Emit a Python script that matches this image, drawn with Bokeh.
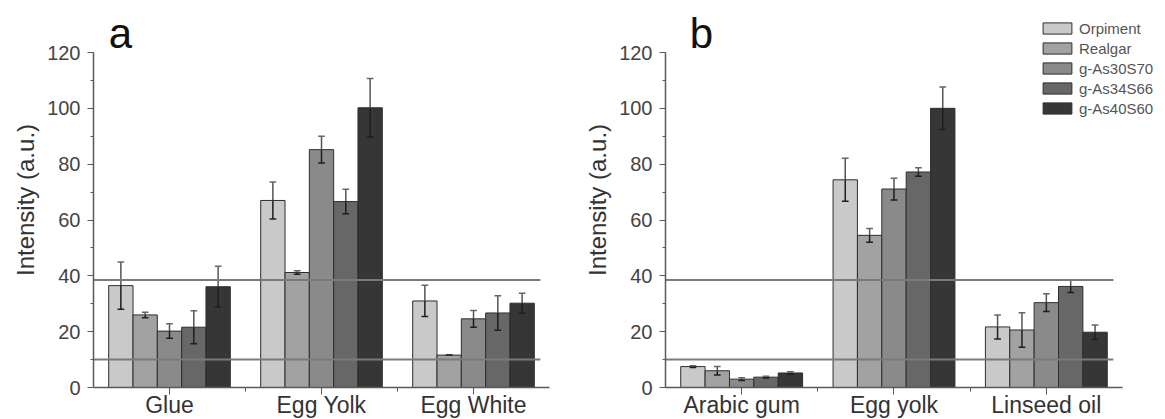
import numpy as np
from bokeh.plotting import figure
from bokeh.layouts import row
from bokeh.models import (ColumnDataSource, FixedTicker, SingleIntervalTicker,
                          Legend, LegendItem, Label, Range1d)
from bokeh.embed import file_html
from bokeh.resources import INLINE

series = ["Orpiment", "Realgar", "g-As30S70", "g-As34S66", "g-As40S60"]
colors = ["#c9c9c9", "#a2a2a2", "#8a8a8a", "#676767", "#363636"]

cats_a = ["Glue", "Egg Yolk", "Egg White"]
vals_a = {
    "Orpiment":  [36.5, 67.0, 31.0],
    "Realgar":   [26.0, 41.2, 11.6],
    "g-As30S70": [20.2, 85.2, 24.6],
    "g-As34S66": [21.6, 66.6, 26.7],
    "g-As40S60": [36.1, 100.2, 30.2],
}
errs_a = {
    "Orpiment":  [8.5, 6.6, 5.6],
    "Realgar":   [1.0, 0.6, 0.0],
    "g-As30S70": [2.6, 4.8, 3.0],
    "g-As34S66": [5.9, 4.4, 6.2],
    "g-As40S60": [7.3, 10.5, 3.6],
}

cats_b = ["Arabic gum", "Egg yolk", "Linseed oil"]
vals_b = {
    "Orpiment":  [7.5, 74.4, 21.7],
    "Realgar":   [6.0, 54.5, 20.6],
    "g-As30S70": [3.0, 71.1, 30.4],
    "g-As34S66": [3.7, 77.2, 36.2],
    "g-As40S60": [5.2, 100.0, 19.8],
}
errs_b = {
    "Orpiment":  [0.3, 7.7, 4.3],
    "Realgar":   [1.5, 2.5, 6.2],
    "g-As30S70": [0.5, 3.9, 3.2],
    "g-As34S66": [0.3, 1.5, 2.2],
    "g-As40S60": [0.4, 7.6, 2.6],
}

ref_levels = [10, 38.5]
ref_x_extent = [0.5, 3.44]
panel_letters = ["a", "b"]

FONT = "Liberation Sans"
BAR_W = 0.16
Y_MAX_AXIS = 120
Y_TOP = 134.33


def make_panel(cats, vals, errs, letter, frame_w, x_max, bl, br, legend=False):
    p = figure(frame_width=frame_w, frame_height=375, output_backend="svg",
               toolbar_location=None,
               x_range=Range1d(0.5, x_max), y_range=Range1d(0, Y_TOP),
               min_border_left=bl, min_border_right=br, min_border_top=12,
               min_border_bottom=28)
    p.outline_line_color = None
    p.xgrid.visible = False
    p.ygrid.visible = False

    idx = np.arange(1, len(cats) + 1)
    renderers = []
    for k, s in enumerate(series):
        off = (k - 2) * BAR_W
        x = idx + off
        v = np.array(vals[s])
        e = np.array(errs[s])
        src = ColumnDataSource(dict(x=x, top=v, up=v + e, lo=v - e,
                                    cl=x - 0.022, cr=x + 0.022))
        r = p.vbar(x="x", top="top", width=BAR_W, source=src, fill_color=colors[k],
                   line_color="#2e2e2e", line_width=1)
        renderers.append(r)
        p.segment(x0="x", y0="top", x1="x", y1="up", source=src, line_color="#555555",
                  line_width=1.5)
        p.segment(x0="x", y0="lo", x1="x", y1="top", source=src, line_color="#1e1e1e",
                  line_width=1.5)
        p.segment(x0="cl", y0="up", x1="cr", y1="up", source=src, line_color="#666666",
                  line_width=1.5)
        p.segment(x0="cl", y0="lo", x1="cr", y1="lo", source=src, line_color="#1e1e1e",
                  line_width=1.5)

    ref_src = ColumnDataSource(dict(x0=[ref_x_extent[0]] * len(ref_levels),
                                    x1=[ref_x_extent[1]] * len(ref_levels),
                                    y=ref_levels))
    p.segment(x0="x0", y0="y", x1="x1", y1="y", source=ref_src,
              line_color="#7a7a7a", line_width=2)

    # axes
    xa = p.xaxis[0]
    xa.bounds = (0.5, len(cats) + 0.5)
    xa.ticker = FixedTicker(ticks=list(idx), minor_ticks=list(idx[:-1] + 0.5))
    xa.major_label_overrides = {int(i): c for i, c in zip(idx, cats)}
    xa.major_label_text_font = FONT
    xa.major_label_text_font_size = "23px"
    xa.major_label_text_color = "#333333"
    xa.major_label_standoff = -3
    xa.axis_line_color = "#5a5a5a"
    xa.axis_line_width = 1.5
    xa.major_tick_line_color = "#5a5a5a"
    xa.minor_tick_line_color = "#5a5a5a"
    xa.major_tick_out = 7
    xa.major_tick_in = 0
    xa.minor_tick_out = 4
    xa.minor_tick_in = 0

    ya = p.yaxis[0]
    ya.bounds = (0, Y_MAX_AXIS)
    ya.ticker = SingleIntervalTicker(interval=20, num_minor_ticks=2)
    ya.axis_label = "Intensity (a.u.)"
    ya.axis_label_text_font = FONT
    ya.axis_label_text_font_size = "24px"
    ya.axis_label_text_font_style = "normal"
    ya.axis_label_text_color = "#333333"
    ya.axis_label_standoff = 5
    ya.major_label_text_font = FONT
    ya.major_label_text_font_size = "20px"
    ya.major_label_text_color = "#444444"
    ya.major_label_standoff = 7
    ya.axis_line_color = "#5a5a5a"
    ya.axis_line_width = 1.5
    ya.major_tick_line_color = "#5a5a5a"
    ya.minor_tick_line_color = "#5a5a5a"
    ya.major_tick_out = 6
    ya.major_tick_in = 0
    ya.minor_tick_out = 3
    ya.minor_tick_in = 0

    lx = 0.6 if letter == "a" else 0.66
    p.add_layout(Label(x=lx, y=126.8, text=letter, text_font=FONT,
                       text_font_size="42px", text_color="#111111",
                       text_baseline="alphabetic"))

    if legend:
        items = [LegendItem(label=s, renderers=[r]) for s, r in zip(series, renderers)]
        lg = Legend(items=items, location=(374, 270), glyph_width=36, glyph_height=14,
                    label_height=18, spacing=2, label_standoff=4, padding=0, margin=0,
                    border_line_color=None, background_fill_alpha=0,
                    label_text_font=FONT, label_text_font_size="15px",
                    label_text_color="#555555")
        p.add_layout(lg, "center")
    return p


pa = make_panel(cats_a, vals_a, errs_a, panel_letters[0], 456, 3.5, 93, 20)
pb = make_panel(cats_b, vals_b, errs_b, panel_letters[1], 491, 0.5 + 491 / 152.33, 96, 0,
                legend=True)

layout = row(pa, pb)
open("out.html", "w").write(file_html(layout, INLINE))
